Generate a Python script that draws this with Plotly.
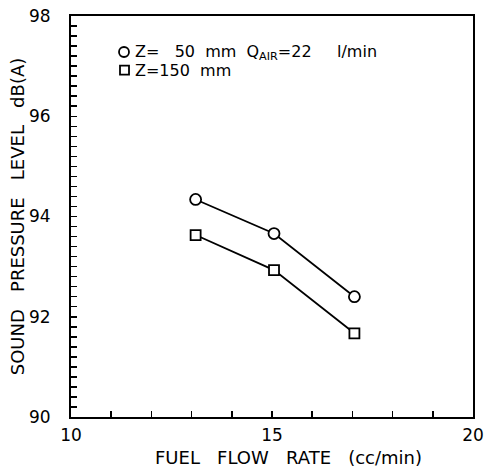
import plotly.graph_objects as go

# ---- data ----
fuel_flow = [13.1, 15.05, 17.05]          # cc/min
spl_z50 = [94.34, 93.66, 92.40]           # dB(A), Z = 50 mm
spl_z150 = [93.63, 92.93, 91.67]          # dB(A), Z = 150 mm
x_ticks = [10, 15, 20]
y_ticks = [90, 92, 94, 96, 98]

NB = "\u00a0"
FONT = "DejaVu Sans"

fig = go.Figure()
fig.add_trace(go.Scatter(
    x=fuel_flow, y=spl_z50, mode="lines+markers", name="Z=50 mm",
    line=dict(color="black", width=1.8),
    marker=dict(symbol="circle", size=11, color="white",
                line=dict(color="black", width=1.8)),
    showlegend=False))
fig.add_trace(go.Scatter(
    x=fuel_flow, y=spl_z150, mode="lines+markers", name="Z=150 mm",
    line=dict(color="black", width=1.8),
    marker=dict(symbol="square", size=10, color="white",
                line=dict(color="black", width=1.8)),
    showlegend=False))

axis_common = dict(
    showgrid=False, zeroline=False, showline=True, linecolor="black",
    linewidth=2, mirror=True, ticks="inside", ticklen=6, tickwidth=1.5,
    tickcolor="black", tickfont=dict(family=FONT, size=17, color="black"),
    automargin=False,
)

fig.update_xaxes(
    range=[10, 20], tickvals=x_ticks, ticktext=[str(v) for v in x_ticks],
    minor=dict(dtick=1, ticks="inside", ticklen=6, tickwidth=1.5, tickcolor="black"),
    ticklabelstandoff=2,
    **axis_common)
fig.update_yaxes(
    range=[90, 98], tickvals=y_ticks, ticktext=[str(v) for v in y_ticks],
    minor=dict(dtick=0.2, ticks="inside", ticklen=6, tickwidth=1.5, tickcolor="black"),
    ticklabelstandoff=15,
    title=dict(text=f"SOUND{NB*3}PRESSURE{NB*3}LEVEL{NB*3}dB(A)",
               font=dict(family=FONT, size=18, color="black"), standoff=0),
    **axis_common)

# x-axis title (placed as in the original, slightly right of centre)
fig.add_annotation(
    xref="paper", yref="paper", x=0.542, y=-0.101, xanchor="center", yanchor="middle",
    text=f"FUEL{NB*3}FLOW{NB*3}RATE{NB*3}(cc/min)", showarrow=False,
    font=dict(family=FONT, size=18, color="black"))

# legend (drawn as text + outline symbols, as in the original figure)
fig.add_annotation(
    xref="paper", yref="paper", x=0.1535, y=0.910, xanchor="left", yanchor="middle",
    text=f"Z={NB*3}50{NB*2}mm{NB*2}Q<sub>AIR</sub>=22{NB*5}l/min", showarrow=False,
    font=dict(family=FONT, size=16, color="black"))
fig.add_annotation(
    xref="paper", yref="paper", x=0.1535, y=0.865, xanchor="left", yanchor="middle",
    text=f"Z=150{NB*2}mm", showarrow=False,
    font=dict(family=FONT, size=16, color="black"))
fig.add_shape(type="circle", xref="paper", yref="paper",
              x0=0.1194, x1=0.1443, y0=0.8978, y1=0.9227,
              line=dict(color="black", width=1.8))
fig.add_shape(type="rect", xref="paper", yref="paper",
              x0=0.1219, x1=0.1443, y0=0.8539, y1=0.8763,
              line=dict(color="black", width=1.8))

fig.update_layout(
    width=491, height=472,
    margin=dict(l=71, r=18, t=16, b=55),
    paper_bgcolor="white", plot_bgcolor="white",
    font=dict(family=FONT, color="black"),
)

fig.write_html("out.html",
               config={"displayModeBar": False, "staticPlot": True},
               post_script="document.body.style.margin='0';document.body.style.overflow='hidden';")
